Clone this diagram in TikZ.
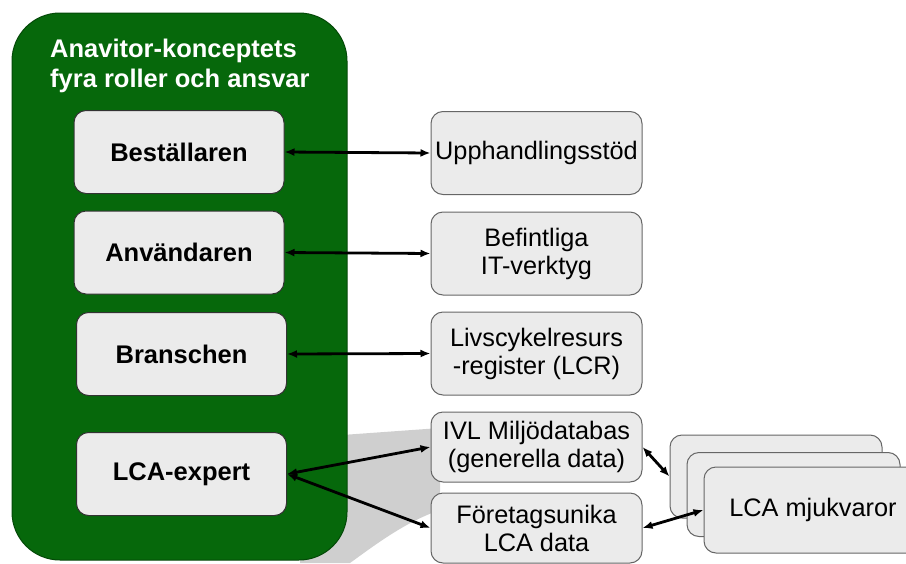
\documentclass[tikz,border=0pt]{standalone}
\usepackage{fontspec}
\setmainfont{Liberation Sans}
\usetikzlibrary{arrows.meta}
\definecolor{anagreen}{RGB}{6,104,11}
\definecolor{boxgray}{RGB}{235,235,235}

\begin{document}
\begin{tikzpicture}[x=1pt,y=-1pt,
	role/.style={draw=black!80,line width=1pt,fill=boxgray,rounded corners=12pt,minimum width=210pt,minimum height=83pt,inner sep=2pt,font=\fontsize{25.5}{30}\selectfont\bfseries},
	tool/.style={draw=black!60,line width=1pt,fill=boxgray,rounded corners=12pt,minimum width=211pt,minimum height=83pt,inner sep=2pt,align=center,font=\fontsize{25.3}{28}\selectfont},
	link/.style={line width=2.8pt,{Latex[length=10pt,width=8pt]}-{Latex[length=10pt,width=8pt]}}]
\useasboundingbox (0,0) rectangle (906,563);

% shadow of the frame
\fill[black!19] (300,438) -- (440,428) -- (440,510)
	.. controls (405,522) and (375,545) .. (350,563) -- (300,563) -- cycle;

\node[draw=anagreen!70!black,line width=1pt,fill=anagreen,rounded corners=48pt,minimum width=335pt,minimum height=547pt] (frame) at (179.5,286.5) {};
\node[anchor=north west,text=white,align=left,inner sep=0pt,font=\fontsize{25.5}{30}\selectfont\bfseries] (title) at (50,39) {Anavitor-konceptets\\fyra roller och ansvar};

\foreach \name/\txt/\x/\y in {best/Beställaren/179/152, anv/Användaren/179/252.5, bran/Branschen/181.5/354, lca/LCA-expert/181.5/474}
	{
	\node[role] (\name) at (\x,\y) {\txt};
	}

\node[tool] (upph) at (536.5,153) {Upphandlingsstöd};
\node[tool] (befi) at (536.5,253.5) {Befintliga\\IT-verktyg};
\node[tool] (livs) at (536.5,353.5) {Livscykelresurs\\-register (LCR)};
\node[tool,minimum height=70pt] (ivl) at (536.5,447) {IVL Miljödatabas\\(generella data)};
\node[tool,minimum height=70pt] (foret) at (536.5,528) {Företagsunika\\LCA data};

% stacked software boxes
\node[tool,minimum width=212pt] (soft3) at (776,476.5) {};
\node[tool,minimum width=213pt,minimum height=84pt] (soft2) at (793.5,494.5) {};
\node[tool,minimum width=218pt,minimum height=86pt] (soft1) at (813,510) {LCA mjukvaror};

\foreach \a/\b in {best/upph, anv/befi, bran/livs, lca/ivl, lca/foret}
	{
	\draw[link] (\a.east) -- (\b.west);
	}
\draw[link] (ivl.east) -- (soft3.west);
\draw[link] (foret.east) -- (soft1.west);
\end{tikzpicture}
\end{document}
